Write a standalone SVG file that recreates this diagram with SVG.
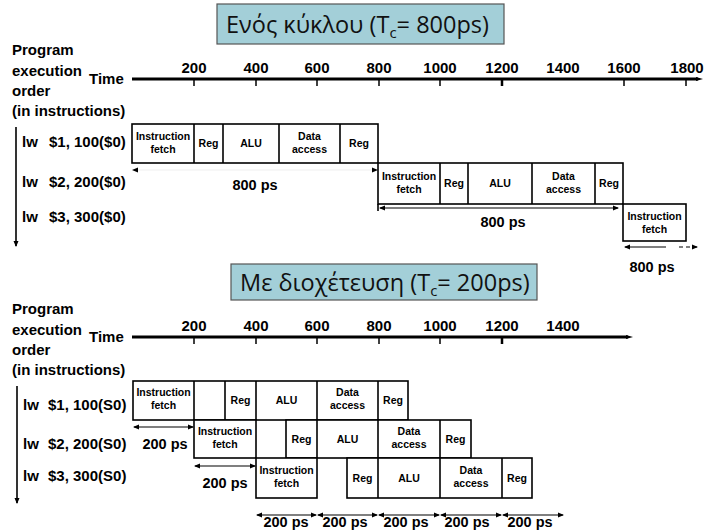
<svg xmlns="http://www.w3.org/2000/svg" width="704" height="530" viewBox="0 0 704 530">
<defs>
<style>
.t{font-family:"Liberation Sans",Arial,sans-serif;font-weight:bold;fill:#000}
.l{font-size:15px}
.n{font-size:15px;text-anchor:middle}
.b{font-size:10.5px;text-anchor:middle}
.d{font-size:14.5px;text-anchor:middle}
.box{fill:#fff;stroke:#000;stroke-width:1.6}
.dv{stroke:#000;stroke-width:1.6}
.ttl{fill:#A3CFD8;stroke:#555;stroke-width:1.2}
.tt{font-family:"Open Sans","Noto Sans",sans-serif;font-size:23.5px;fill:#111}
.ax{stroke:#000;stroke-width:3}
.tk{stroke:#000;stroke-width:1.5}
.dim{stroke:#000;stroke-width:1.2;fill:none}
</style>
<marker id="ah" markerWidth="6" markerHeight="6" refX="5" refY="3" orient="auto-start-reverse" markerUnits="userSpaceOnUse">
<path d="M0,0.5 L6,3 L0,5.5 Z" fill="#000"/>
</marker>
<marker id="axh" markerWidth="8" markerHeight="6" refX="2" refY="3" orient="auto" markerUnits="userSpaceOnUse">
<path d="M0,1 L7,3 L0,5 Z" fill="#000"/>
</marker>
</defs>
<rect width="704" height="530" fill="#fff"/>

<!-- ===== Top: single cycle ===== -->
<g id="title-single">
<rect class="ttl" x="217" y="4" width="287" height="40"/>
<text class="tt" x="226" y="33">Ενός κύκλου (T<tspan font-size="15" dy="5">c</tspan><tspan dy="-5">= 800ps)</tspan></text>
</g>

<g id="axis-single">
<text class="t l" x="12" y="55">Program</text>
<text class="t l" x="12" y="76">execution</text>
<text class="t l" x="12" y="96">order</text>
<text class="t l" x="12" y="116">(in instructions)</text>
<text class="t l" x="89" y="84">Time</text>
<line class="ax" x1="132" y1="79" x2="698" y2="79" marker-end="url(#axh)"/>
<g class="tk">
<line x1="194" y1="79" x2="194" y2="86"/><line x1="256" y1="79" x2="256" y2="86"/><line x1="317" y1="79" x2="317" y2="86"/>
<line x1="379" y1="79" x2="379" y2="86"/><line x1="440" y1="79" x2="440" y2="86"/><line x1="502" y1="79" x2="502" y2="86" stroke-width="2.5"/>
<line x1="624" y1="79" x2="624" y2="86"/><line x1="686" y1="79" x2="686" y2="86"/>
</g>
<text class="t n" x="194" y="73">200</text><text class="t n" x="256" y="73">400</text><text class="t n" x="317" y="73">600</text>
<text class="t n" x="379" y="73">800</text><text class="t n" x="440" y="73">1000</text><text class="t n" x="502" y="73">1200</text>
<text class="t n" x="563" y="73">1400</text><text class="t n" x="624" y="73">1600</text><text class="t n" x="687" y="73">1800</text>
</g>

<g id="order-single">
<line class="dv" x1="16" y1="127" x2="16" y2="246" stroke-width="1.3" marker-end="url(#ah)"/>
<text class="t l" x="22" y="147">lw<tspan x="49">$1, 100($0)</tspan></text>
<text class="t l" x="22" y="187">lw<tspan x="49">$2, 200($0)</tspan></text>
<text class="t l" x="22" y="222">lw<tspan x="49">$3, 300($0)</tspan></text>
</g>

<g id="s-instr1">
<rect class="box" x="132" y="124" width="246" height="39"/>
<line class="dv" x1="194" y1="124" x2="194" y2="163"/><line class="dv" x1="223" y1="124" x2="223" y2="163"/>
<line class="dv" x1="279" y1="124" x2="279" y2="163"/><line class="dv" x1="340" y1="124" x2="340" y2="163"/>
<text class="t b" x="163" y="140">Instruction</text><text class="t b" x="163" y="153">fetch</text>
<text class="t b" x="208.5" y="147">Reg</text><text class="t b" x="251" y="147">ALU</text>
<text class="t b" x="309.5" y="140">Data</text><text class="t b" x="309.5" y="153">access</text>
<text class="t b" x="359" y="147">Reg</text>
</g>

<g id="s-instr2">
<rect class="box" x="378" y="163" width="245" height="41"/>
<line class="dv" x1="440" y1="163" x2="440" y2="204"/><line class="dv" x1="468" y1="163" x2="468" y2="204"/>
<line class="dv" x1="532" y1="163" x2="532" y2="204"/><line class="dv" x1="595" y1="163" x2="595" y2="204"/>
<text class="t b" x="409" y="180">Instruction</text><text class="t b" x="409" y="193">fetch</text>
<text class="t b" x="454" y="187">Reg</text><text class="t b" x="500" y="187">ALU</text>
<text class="t b" x="563.5" y="180">Data</text><text class="t b" x="563.5" y="193">access</text>
<text class="t b" x="609" y="187">Reg</text>
</g>

<g id="s-instr3">
<rect class="box" x="623" y="204" width="63" height="37"/>
<text class="t b" x="654.5" y="220">Instruction</text><text class="t b" x="654.5" y="233">fetch</text>
</g>

<g id="connectors-single">
<line x1="133" y1="170" x2="377" y2="170" stroke="#e4e4e4" stroke-width="0.6" marker-start="url(#ah)" marker-end="url(#ah)"/>
<line class="dv" x1="378" y1="204" x2="378" y2="211" stroke-width="1.2"/>
<line class="dim" x1="380" y1="208" x2="618" y2="208" marker-start="url(#ah)" marker-end="url(#ah)"/>
<line class="dim" x1="625" y1="247" x2="666" y2="247" stroke-width="1.6" marker-start="url(#ah)"/>
<line class="dim" x1="679" y1="247" x2="697" y2="247" stroke-dasharray="4,3" marker-end="url(#ah)"/>
</g>
<text class="t d" x="255" y="190">800 ps</text>
<text class="t d" x="503" y="227">800 ps</text>
<text class="t d" x="652" y="272">800 ps</text>

<!-- ===== Bottom: pipelined ===== -->
<g id="title-pipe">
<rect class="ttl" x="231" y="264" width="306" height="36"/>
<text class="tt" x="240" y="291">Με διοχέτευση (T<tspan font-size="15" dy="5">c</tspan><tspan dy="-5">= 200ps)</tspan></text>
</g>

<g id="axis-pipe">
<text class="t l" x="12" y="314">Program</text>
<text class="t l" x="12" y="335">execution</text>
<text class="t l" x="12" y="355">order</text>
<text class="t l" x="12" y="375">(in instructions)</text>
<text class="t l" x="89" y="342">Time</text>
<line class="ax" x1="132" y1="337" x2="628" y2="337" marker-end="url(#axh)"/>
<g class="tk">
<line x1="194" y1="337" x2="194" y2="344"/><line x1="256" y1="337" x2="256" y2="344"/><line x1="317" y1="337" x2="317" y2="344"/>
<line x1="379" y1="337" x2="379" y2="344"/><line x1="440" y1="337" x2="440" y2="344"/><line x1="502" y1="337" x2="502" y2="344" stroke-width="2.5"/>
</g>
<text class="t n" x="194" y="331">200</text><text class="t n" x="256" y="331">400</text><text class="t n" x="317" y="331">600</text>
<text class="t n" x="379" y="331">800</text><text class="t n" x="440" y="331">1000</text><text class="t n" x="502" y="331">1200</text>
<text class="t n" x="563" y="331">1400</text>
</g>

<g id="order-pipe">
<line class="dv" x1="17" y1="386" x2="17" y2="503" stroke-width="1.3" marker-end="url(#ah)"/>
<text class="t l" x="23" y="410">lw<tspan x="48">$1, 100(S0)</tspan></text>
<text class="t l" x="23" y="449">lw<tspan x="48">$2, 200(S0)</tspan></text>
<text class="t l" x="23" y="481">lw<tspan x="48">$3, 300(S0)</tspan></text>
</g>

<g id="p-instr1">
<rect class="box" x="133" y="381" width="275" height="39"/>
<line class="dv" x1="194" y1="381" x2="194" y2="420"/><line class="dv" x1="225" y1="381" x2="225" y2="420"/>
<line class="dv" x1="256" y1="381" x2="256" y2="420"/><line class="dv" x1="317" y1="381" x2="317" y2="420"/>
<line class="dv" x1="378" y1="381" x2="378" y2="420"/>
<text class="t b" x="163.5" y="396">Instruction</text><text class="t b" x="163.5" y="409">fetch</text>
<text class="t b" x="240.5" y="404">Reg</text><text class="t b" x="286.5" y="404">ALU</text>
<text class="t b" x="347.5" y="396">Data</text><text class="t b" x="347.5" y="409">access</text>
<text class="t b" x="393" y="404">Reg</text>
</g>

<g id="p-instr2">
<rect class="box" x="194" y="420" width="62" height="38"/>
<rect class="box" x="286" y="420" width="185" height="38"/>
<line class="dv" x1="317" y1="420" x2="317" y2="458"/><line class="dv" x1="378" y1="420" x2="378" y2="458"/>
<line class="dv" x1="440" y1="420" x2="440" y2="458"/>
<text class="t b" x="225" y="435">Instruction</text><text class="t b" x="225" y="448">fetch</text>
<text class="t b" x="301.5" y="443">Reg</text><text class="t b" x="347.5" y="443">ALU</text>
<text class="t b" x="409" y="435">Data</text><text class="t b" x="409" y="448">access</text>
<text class="t b" x="455.5" y="443">Reg</text>
</g>

<g id="p-instr3">
<rect class="box" x="256" y="458" width="61" height="40"/>
<rect class="box" x="347" y="458" width="185" height="40"/>
<line class="dv" x1="378" y1="458" x2="378" y2="498"/><line class="dv" x1="440" y1="458" x2="440" y2="498"/>
<line class="dv" x1="502" y1="458" x2="502" y2="498"/>
<text class="t b" x="286.5" y="474">Instruction</text><text class="t b" x="286.5" y="487">fetch</text>
<text class="t b" x="362.5" y="482">Reg</text><text class="t b" x="409" y="482">ALU</text>
<text class="t b" x="471" y="474">Data</text><text class="t b" x="471" y="487">access</text>
<text class="t b" x="517" y="482">Reg</text>
</g>

<g id="connectors-pipe">
<line class="dim" x1="134" y1="427" x2="193" y2="427" marker-start="url(#ah)" marker-end="url(#ah)"/>
<line class="dim" x1="195" y1="466" x2="255" y2="466" marker-start="url(#ah)" marker-end="url(#ah)"/>
<line class="dim" x1="257" y1="515" x2="316" y2="515" marker-start="url(#ah)" marker-end="url(#ah)"/>
<line class="dim" x1="318" y1="515" x2="377" y2="515" marker-start="url(#ah)" marker-end="url(#ah)"/>
<line class="dim" x1="379" y1="515" x2="439" y2="515" marker-start="url(#ah)" marker-end="url(#ah)"/>
<line class="dim" x1="441" y1="515" x2="501" y2="515" marker-start="url(#ah)" marker-end="url(#ah)"/>
<line class="dim" x1="503" y1="515" x2="563" y2="515" marker-start="url(#ah)" marker-end="url(#ah)"/>
</g>
<text class="t d" x="165" y="449" font-size="15.5">200 ps</text>
<text class="t d" x="225" y="488" font-size="15.5">200 ps</text>
<text class="t d" x="286" y="527" font-size="15.5">200 ps</text>
<text class="t d" x="345" y="527" font-size="15.5">200 ps</text>
<text class="t d" x="406" y="527" font-size="15.5">200 ps</text>
<text class="t d" x="467" y="527" font-size="15.5">200 ps</text>
<text class="t d" x="530" y="527" font-size="15.5">200 ps</text>
</svg>
